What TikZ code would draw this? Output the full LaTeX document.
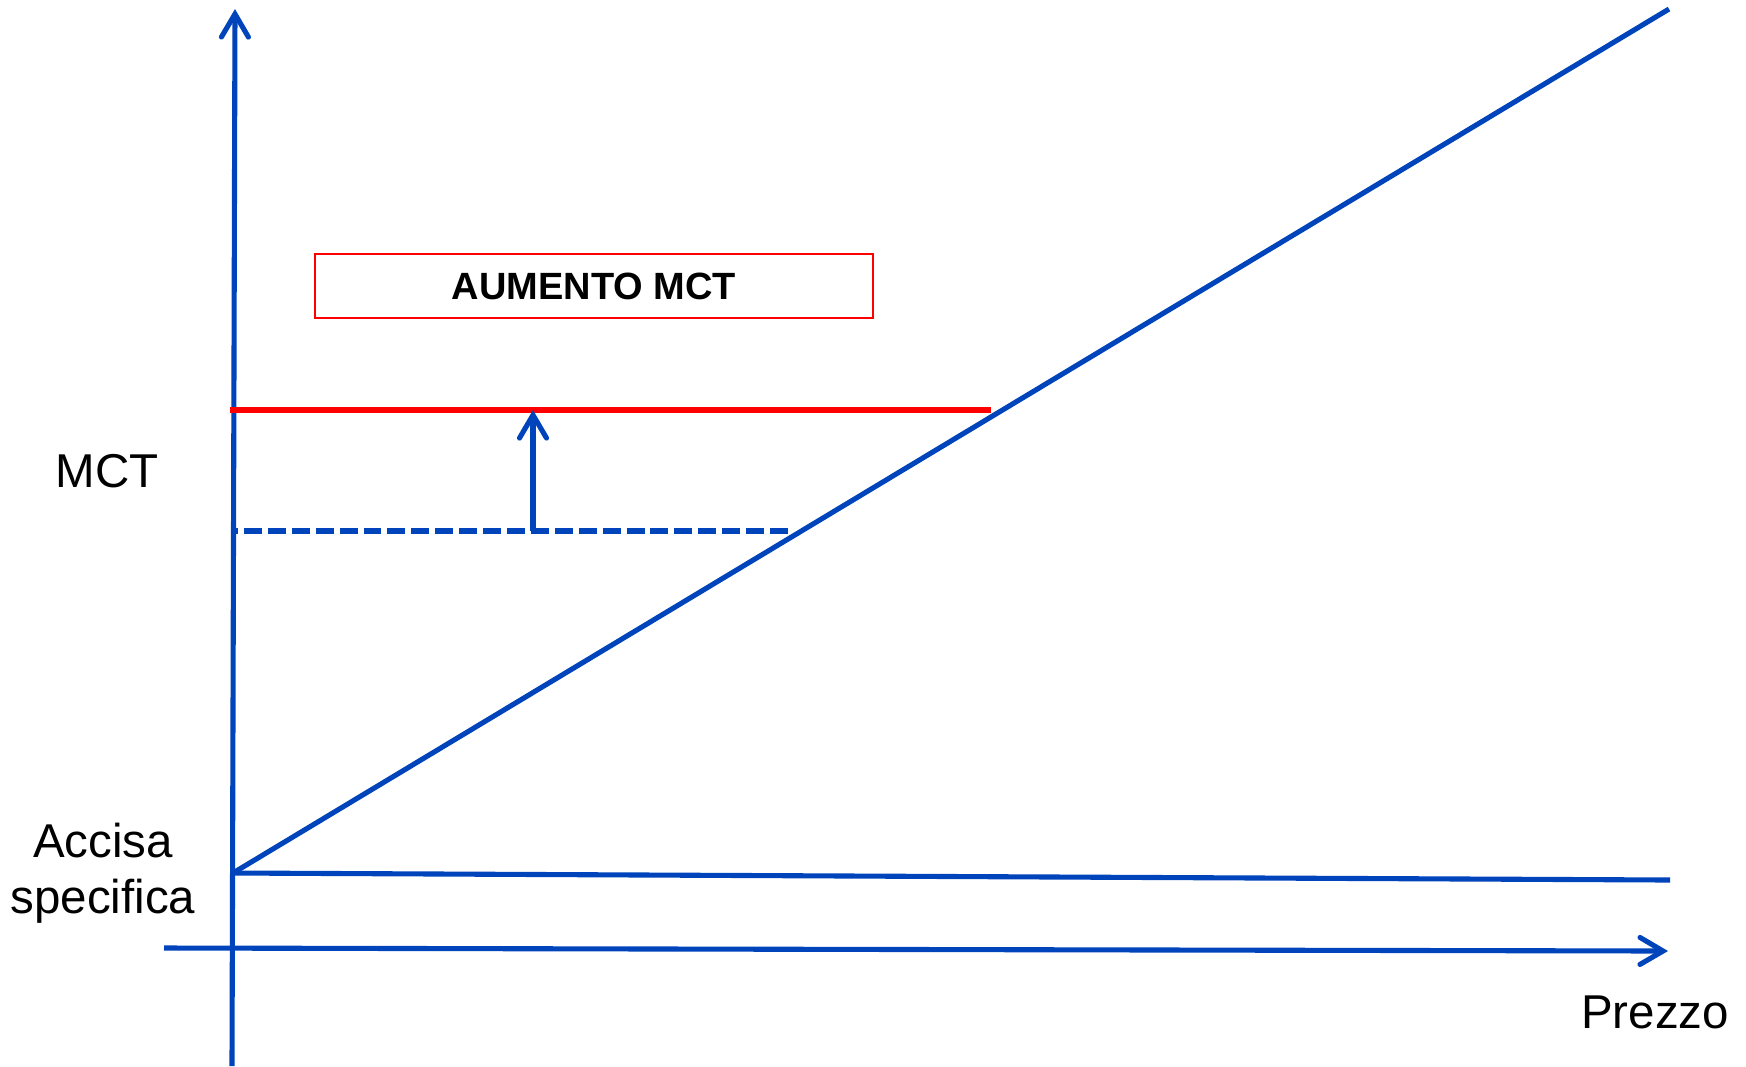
\documentclass[tikz,border=0pt]{standalone}
\usepackage{fontspec}
\setmainfont{Liberation Sans}
\usetikzlibrary{arrows.meta}
\definecolor{axisblue}{RGB}{0,68,187}
\definecolor{mctred}{RGB}{255,0,0}
\begin{document}
\begin{tikzpicture}[x=0.01cm,y=-0.01cm,
	blueline/.style={draw=axisblue,line width=1.45pt},
	redline/.style={draw=mctred,line width=1.7pt},
	barb/.style={-{Straight Barb[length=2.3mm,width=2.7mm,line cap=round]}},
	lbl/.style={font=\fontsize{13.5}{15.9}\selectfont,inner sep=0pt}]
	\useasboundingbox (0,0) rectangle (1746,1066);
	%Axes
	\coordinate (yBottom) at (232,1066);
	\coordinate (yTop) at (235,9);
	\coordinate (xLeft) at (164,948);
	\coordinate (xRight) at (1668,951);
	\draw [blueline,barb] (yBottom) -- (yTop);
	\draw [blueline,barb] (xLeft) -- (xRight);
	%Accisa specifica and the line of the MCT
	\coordinate (acc0) at (233,873);
	\coordinate (acc1) at (1670,880);
	\coordinate (diag1) at (1669,9);
	\draw [blueline] (acc0) -- (acc1);
	\draw [blueline] (acc0) -- (diag1);
	%Old level (dashed) and new level (red)
	\coordinate (old0) at (232,531);
	\coordinate (old1) at (793,531);
	\coordinate (new0) at (230,410);
	\coordinate (new1) at (991,410);
	\draw [blueline,dash pattern=on 5.1pt off 1.7pt,dash phase=3.4pt] (old0) -- (old1);
	\draw [redline] (new0) -- (new1);
	%Shift up
	\coordinate (up0) at (533,531);
	\coordinate (up1) at (533,410);
	\draw [blueline,barb] (up0) -- (up1);
	%Labels
	\node [lbl] (mct) at (107,471) {MCT};
	\node [lbl,align=center] (accisa) at (103,873) {Accisa\\specifica};
	\node [lbl,anchor=base] (prezzo) at (1655,1028) {Prezzo};
	\node [draw=mctred,line width=0.6pt,minimum width=5.57cm,minimum height=0.64cm,
		font=\fontsize{10.8}{12}\selectfont\bfseries] (aumento) at (594,286) {AUMENTO MCT};
\end{tikzpicture}
\end{document}
